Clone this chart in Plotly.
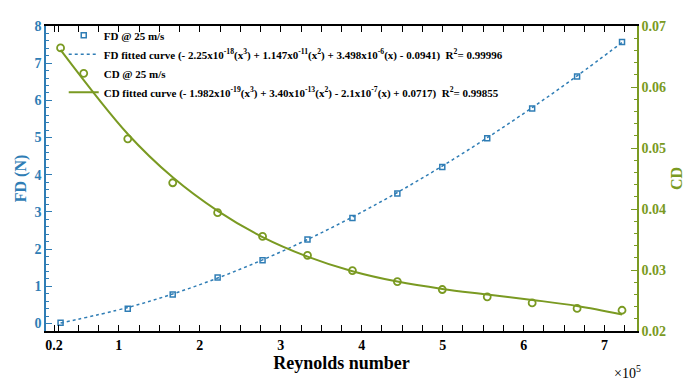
import plotly.graph_objects as go

# Data (Reynolds number in units of 1e5)
re = [0.28, 1.11, 1.665, 2.22, 2.775, 3.33, 3.885, 4.44, 4.995, 5.55, 6.105, 6.66, 7.215]
fd = [0.02, 0.40, 0.78, 1.24, 1.70, 2.26, 2.84, 3.50, 4.21, 4.98, 5.78, 6.64, 7.57]
fd_fit = [0.013, 0.432, 0.796, 1.223, 1.712, 2.260, 2.864, 3.523, 4.235, 4.996, 5.804, 6.659, 7.555]
cd = [0.0664, 0.0515, 0.0443, 0.0394, 0.0355, 0.0324, 0.0299, 0.0281, 0.0268, 0.0256, 0.0246, 0.0237, 0.0234]
cd_fit = [0.0661, 0.0523, 0.0452, 0.0397, 0.0354, 0.0322, 0.0298, 0.0281, 0.0269, 0.0260, 0.0251, 0.0241, 0.0227]

x_ticks = [0.2, 1, 2, 3, 4, 5, 6, 7]
x_ticktext = ["0.2", "1", "2", "3", "4", "5", "6", "7"]

BLUE = "#2f7db5"
GREEN = "#7a9a22"
FONT = "Liberation Serif"

fd_label = "FD @ 25 m/s"
fd_fit_label = ("FD fitted curve (- 2.25x10<sup>-18</sup>(x<sup>3</sup>) + 1.147x0<sup>-11</sup>(x<sup>2</sup>) "
                "+ 3.498x10<sup>-6</sup>(x) - 0.0941)  R<sup>2</sup>= 0.99996")
cd_label = "CD @ 25 m/s"
cd_fit_label = ("CD fitted curve (- 1.982x10<sup>-19</sup>(x<sup>3</sup>) + 3.40x10<sup>-13</sup>(x<sup>2</sup>) "
                "- 2.1x10<sup>-7</sup>(x) + 0.0717)  R<sup>2</sup>= 0.99855")

fig = go.Figure()
fig.add_trace(go.Scatter(x=re, y=fd, mode="markers", name=fd_label,
                         marker=dict(symbol="square-open", size=5, color=BLUE, line=dict(width=1.5))))
fig.add_trace(go.Scatter(x=re, y=fd_fit, mode="lines", name=fd_fit_label, line_shape="spline",
                         line=dict(color=BLUE, width=1.5, dash="dot")))
fig.add_trace(go.Scatter(x=re, y=cd, mode="markers", name=cd_label, yaxis="y2",
                         marker=dict(symbol="circle-open", size=7, color=GREEN, line=dict(width=1.8))))
fig.add_trace(go.Scatter(x=re, y=cd_fit, mode="lines", name=cd_fit_label, yaxis="y2", line_shape="spline",
                         line=dict(color=GREEN, width=2)))

fig.update_layout(
    width=688, height=381,
    margin=dict(l=29, r=59, t=11, b=58),
    paper_bgcolor="white", plot_bgcolor="white",
    font=dict(family=FONT, size=13, color="black"),
    showlegend=True,
    legend=dict(x=0.030, y=1.017, xanchor="left", yanchor="top",
                bgcolor="rgba(255,255,255,0)", borderwidth=0,
                font=dict(family=FONT, size=11, color="black", weight="bold"),
                tracegroupgap=0, itemwidth=30),
    xaxis=dict(range=[0.1, 7.4], tickvals=x_ticks, ticktext=x_ticktext,
               showline=True, linecolor="black", linewidth=1.5, mirror="allticks",
               ticks="inside", ticklen=6, tickcolor="black", tickwidth=1.2,
               minor=dict(dtick=0.25, ticks="inside", ticklen=3, tickcolor="black"),
               showgrid=False, zeroline=False,
               tickfont=dict(family=FONT, size=14, color="black", weight="bold"),
               title=dict(text="Reynolds number", standoff=5,
                          font=dict(family=FONT, size=18, color="black", weight="bold"))),
    yaxis=dict(range=[-0.2, 8], dtick=1, tick0=0,
               showline=True, linecolor=BLUE, linewidth=1.5,
               ticks="inside", ticklen=6, tickcolor=BLUE, tickwidth=1.2,
               minor=dict(dtick=0.2, ticks="inside", ticklen=3, tickcolor=BLUE),
               showgrid=False, zeroline=False,
               tickfont=dict(family=FONT, size=14, color=BLUE, weight="bold"),
               title=dict(text="FD (N)", standoff=4,
                          font=dict(family=FONT, size=16, color=BLUE, weight="bold"))),
    yaxis2=dict(range=[0.02, 0.07], dtick=0.01, tick0=0.02, overlaying="y", side="right",
                tickformat=".2f",
                showline=True, linecolor=GREEN, linewidth=1.5,
                ticks="inside", ticklen=6, tickcolor=GREEN, tickwidth=1.2,
                minor=dict(dtick=0.002, ticks="inside", ticklen=3, tickcolor=GREEN),
                showgrid=False, zeroline=False,
                tickfont=dict(family=FONT, size=14, color=GREEN, weight="bold"),
                title=dict(text="CD", standoff=6,
                           font=dict(family=FONT, size=16, color=GREEN, weight="bold"))),
    annotations=[dict(text="\u00d710<sup>5</sup>", x=1.01, y=-0.135, xref="paper", yref="paper",
                      xanchor="right", yanchor="middle", showarrow=False,
                      font=dict(family=FONT, size=14, color="black"))],
)

fig.write_html("out.html")
